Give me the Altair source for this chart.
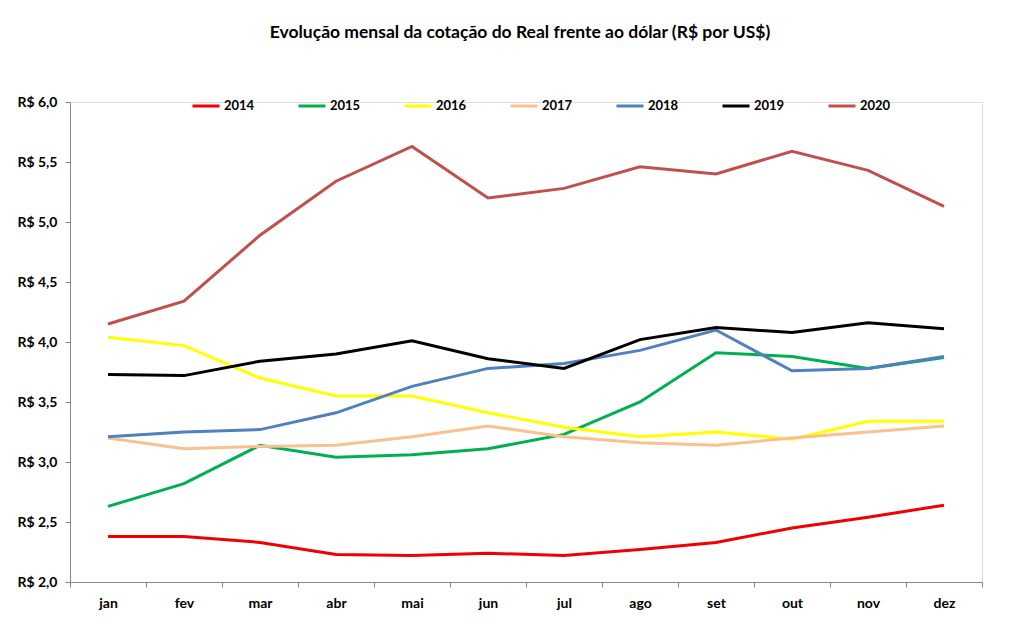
import altair as alt
import pandas as pd

months = ["jan", "fev", "mar", "abr", "mai", "jun", "jul", "ago", "set", "out", "nov", "dez"]
years = ["2014", "2015", "2016", "2017", "2018", "2019", "2020"]

v2014 = [2.38, 2.38, 2.33, 2.23, 2.22, 2.24, 2.22, 2.27, 2.33, 2.45, 2.54, 2.64]
v2015 = [2.63, 2.82, 3.14, 3.04, 3.06, 3.11, 3.23, 3.50, 3.91, 3.88, 3.78, 3.87]
v2016 = [4.04, 3.97, 3.70, 3.55, 3.55, 3.41, 3.29, 3.21, 3.25, 3.19, 3.34, 3.34]
v2017 = [3.20, 3.11, 3.13, 3.14, 3.21, 3.30, 3.21, 3.16, 3.14, 3.20, 3.25, 3.30]
v2018 = [3.21, 3.25, 3.27, 3.41, 3.63, 3.78, 3.82, 3.93, 4.10, 3.76, 3.78, 3.88]
v2019 = [3.73, 3.72, 3.84, 3.90, 4.01, 3.86, 3.78, 4.02, 4.12, 4.08, 4.16, 4.11]
v2020 = [4.15, 4.34, 4.89, 5.34, 5.63, 5.20, 5.28, 5.46, 5.40, 5.59, 5.43, 5.13]
series = [v2014, v2015, v2016, v2017, v2018, v2019, v2020]

colors = ["#F00000", "#00B050", "#FFFF00", "#FAC090", "#4F81BD", "#000000", "#C0504D"]
y_ticks = [2.0, 2.5, 3.0, 3.5, 4.0, 4.5, 5.0, 5.5, 6.0]

rows = []
for yr, vals in zip(years, series):
    for m, v in zip(months, vals):
        rows.append({"mes": m, "ano": yr, "valor": v})
df = pd.DataFrame(rows)

FONT = "Lato"
AXIS_COLOR = "#868686"

chart = alt.Chart(df).mark_line(strokeWidth=3).encode(
    x=alt.X(
        "mes:N",
        sort=months,
        bandPosition=0.5,
        scale=alt.Scale(type="band", paddingInner=0, paddingOuter=0),
        axis=alt.Axis(
            title=None, tickBand="extent", labelAngle=0, grid=False,
            labelFont=FONT, labelFontSize=14, labelFontWeight="bold", labelColor="#000000",
            labelPadding=9, tickSize=5, tickColor=AXIS_COLOR, domainColor=AXIS_COLOR,
        ),
    ),
    y=alt.Y(
        "valor:Q",
        scale=alt.Scale(domain=[2, 6], nice=False, zero=False),
        axis=alt.Axis(
            title=None, values=y_ticks, grid=False,
            labelExpr="'R$ ' + replace(format(datum.value, '.1f'), '.', ',')",
            labelFont=FONT, labelFontSize=14, labelFontWeight="bold", labelColor="#000000",
            labelPadding=8, tickSize=5, tickColor=AXIS_COLOR, domainColor=AXIS_COLOR,
        ),
    ),
    color=alt.Color(
        "ano:N",
        scale=alt.Scale(domain=years, range=colors),
        legend=alt.Legend(
            title=None, orient="none", direction="horizontal", columns=7,
            legendX=121, legendY=-11,
            symbolType="stroke", symbolStrokeWidth=3, symbolSize=729,
            labelFont=FONT, labelFontSize=13, labelFontWeight="bold", labelColor="#000000",
            labelOffset=3, columnPadding=37,
        ),
    ),
).properties(
    width=912,
    height=480,
    title=alt.TitleParams(
        "Evolução mensal da cotação do Real frente ao dólar (R$ por US$)",
        font=FONT, fontSize=17.5, fontWeight="bold", color="#000000",
        anchor="middle", offset=50, dx=-6,
    ),
    autosize=alt.AutoSizeParams(type="none"),
    padding={"left": 62, "top": 94, "right": 10, "bottom": 35},
).configure_view(stroke=None).configure(background="#FFFFFF")

chart.save("out.html", embed_options={"renderer": "svg", "actions": False})
